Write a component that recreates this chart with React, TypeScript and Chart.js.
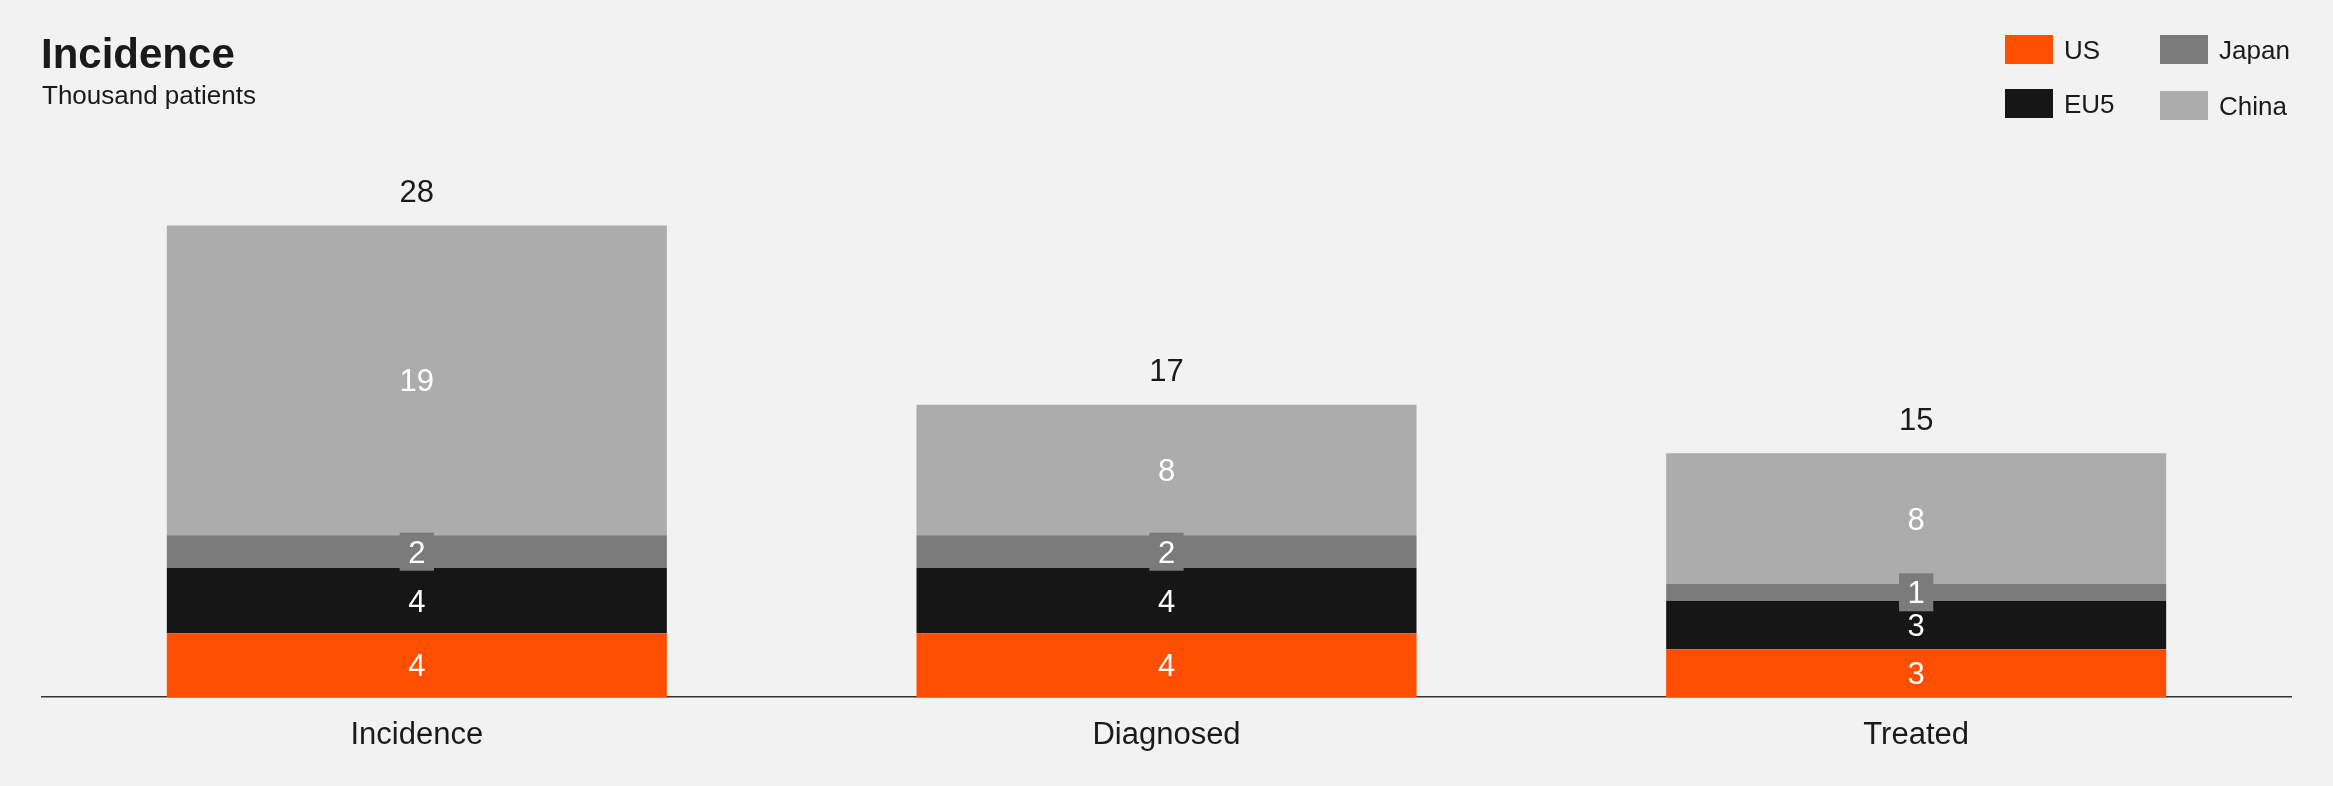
import React, { useEffect, useRef } from "react";
import { Chart, registerables } from "chart.js";

Chart.register(...registerables);

const FONT = '"Liberation Sans", Arial, Helvetica, sans-serif';

const categories = ["Incidence", "Diagnosed", "Treated"];
const seriesNames = ["US", "EU5", "Japan", "China"];
const usValues = [3.8, 3.8, 2.85];
const eu5Values = [3.9, 3.9, 2.9];
const japanValues = [1.95, 1.95, 1.0];
const chinaValues = [18.5, 7.8, 7.8];
const seriesColors = ["#ff4e00", "#161616", "#7b7b7b", "#acacac"];
const yMax = 30;

const titleText = "Incidence";
const subtitleText = "Thousand patients";

const labelPlugin = {
  id: "stackLabels",
  afterDatasetsDraw(chart: any) {
    const ctx = chart.ctx;
    ctx.save();
    ctx.font = `31px ${FONT}`;
    ctx.textAlign = "center";
    chart.data.datasets.forEach((ds: any, i: number) => {
      const meta = chart.getDatasetMeta(i);
      meta.data.forEach((el: any, j: number) => {
        const v = ds.data[j];
        const text = String(Math.round(v));
        const { x, y, base } = el.getProps(["x", "y", "base"], true);
        const cy = (y + base) / 2;
        const w = ctx.measureText(text).width + 17;
        const h = 38;
        ctx.fillStyle = ds.backgroundColor;
        ctx.fillRect(x - w / 2, cy - h / 2, w, h);
        ctx.fillStyle = "#ffffff";
        ctx.textBaseline = "middle";
        ctx.fillText(text, x, cy + 2.5);
      });
    });
    const lastMeta = chart.getDatasetMeta(chart.data.datasets.length - 1);
    categories.forEach((_c, j) => {
      const total = chart.data.datasets.reduce(
        (s: number, ds: any) => s + ds.data[j],
        0
      );
      const el = lastMeta.data[j];
      ctx.fillStyle = "#1a1a1a";
      ctx.textBaseline = "alphabetic";
      ctx.fillText(String(Math.round(total)), el.x, el.y - 23.5);
    });
    ctx.restore();
  },
};

export default function App() {
  const canvasRef = useRef<HTMLCanvasElement | null>(null);

  useEffect(() => {
    if (!canvasRef.current) return;
    const seriesValues = [usValues, eu5Values, japanValues, chinaValues];
    const chart = new Chart(canvasRef.current, {
      type: "bar",
      data: {
        labels: categories,
        datasets: seriesNames.map((name, i) => ({
          label: name,
          data: seriesValues[i],
          backgroundColor: seriesColors[i],
          borderWidth: 0,
          categoryPercentage: 1,
          barPercentage: 0.667,
        })),
      },
      options: {
        animation: false,
        responsive: false,
        devicePixelRatio: 1,
        layout: {
          padding: { top: 194.5, left: 42, right: 42, bottom: 11.8 },
        },
        plugins: {
          legend: { display: false },
          tooltip: { enabled: false },
          title: { display: false },
        },
        scales: {
          x: {
            stacked: true,
            grid: { display: false, drawTicks: false },
            border: { display: true, color: "#333333", width: 1.5 },
            ticks: {
              color: "#1a1a1a",
              font: { family: FONT, size: 31 },
              padding: 20,
            },
          },
          y: {
            stacked: true,
            display: false,
            min: 0,
            max: yMax,
          },
        },
      },
      plugins: [labelPlugin],
    });
    return () => chart.destroy();
  }, []);

  const legendItem = (i: number, left: number, top: number) => (
    <div
      key={seriesNames[i]}
      style={{
        position: "absolute",
        left,
        top,
        height: 29,
        display: "flex",
        alignItems: "center",
      }}
    >
      <div
        style={{
          width: 48,
          height: 29,
          background: seriesColors[i],
          marginRight: 11,
        }}
      />
      <span
        style={{
          fontFamily: FONT,
          fontSize: 26,
          lineHeight: 1,
          color: "#1a1a1a",
        }}
      >
        {seriesNames[i]}
      </span>
    </div>
  );

  return (
    <div
      style={{
        position: "fixed",
        left: 0,
        top: 0,
        width: 2333,
        height: 786,
        background: "#f2f2f2",
        overflow: "hidden",
      }}
    >
      <canvas
        ref={canvasRef}
        width={2333}
        height={786}
        style={{ position: "absolute", left: 0, top: 0, width: 2333, height: 786 }}
      />
      <div
        style={{
          position: "absolute",
          left: 41,
          top: 33,
          fontFamily: FONT,
          fontWeight: "bold",
          fontSize: 42,
          lineHeight: 1,
          color: "#1a1a1a",
        }}
      >
        {titleText}
      </div>
      <div
        style={{
          position: "absolute",
          left: 42,
          top: 82,
          fontFamily: FONT,
          fontSize: 26,
          lineHeight: 1,
          color: "#1a1a1a",
        }}
      >
        {subtitleText}
      </div>
      {legendItem(0, 2005, 35)}
      {legendItem(1, 2005, 89)}
      {legendItem(2, 2160, 35)}
      {legendItem(3, 2160, 91)}
    </div>
  );
}
